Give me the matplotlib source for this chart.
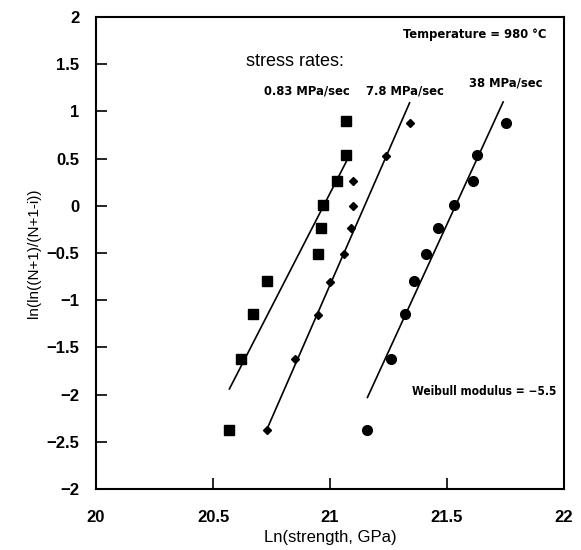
import numpy as np
import matplotlib.pyplot as plt

# Weibull plot: three stress rates at 980 C
sq_x = [21.07, 21.07, 21.03, 20.97, 20.96, 20.95, 20.73, 20.67, 20.62, 20.57]
sq_y = [0.90, 0.54, 0.26, 0.01, -0.24, -0.51, -0.80, -1.15, -1.62, -2.37]

dm_x = [21.34, 21.24, 21.10, 21.10, 21.09, 21.06, 21.00, 20.95, 20.85, 20.73]
dm_y = [0.88, 0.53, 0.26, 0.00, -0.24, -0.51, -0.81, -1.16, -1.62, -2.37]

ci_x = [21.75, 21.63, 21.61, 21.53, 21.46, 21.41, 21.36, 21.32, 21.26, 21.16]
ci_y = [0.88, 0.54, 0.26, 0.01, -0.24, -0.51, -0.80, -1.15, -1.62, -2.37]

# fitted lines (end points)
sq_fit_x = [20.57, 21.07]
sq_fit_y = [-1.94, 0.47]
dm_fit_x = [20.73, 21.34]
dm_fit_y = [-2.37, 1.09]
ci_fit_x = [21.16, 21.74]
ci_fit_y = [-2.03, 1.10]

x_ticks = [20, 20.5, 21, 21.5, 22]
x_labels = ['20', '20.5', '21', '21.5', '22']
y_ticks = [2, 1.5, 1, 0.5, 0, -0.5, -1, -1.5, -2, -2.5, -3]
y_labels = ['2', '1.5', '1', '0.5', '0', '\u22120.5', '\u22121', '\u22121.5',
            '\u22122', '\u22122.5', '\u22122']

W, H = 581, 550
fig = plt.figure(figsize=(W / 100, H / 100), dpi=100)
L, R, T, B = 96, 564, 17, 489
ax = fig.add_axes([L / W, 1 - B / H, (R - L) / W, (B - T) / H])

ax.plot(sq_x, sq_y, 's', color='black', markersize=7.5)
ax.plot(dm_x, dm_y, 'D', color='black', markersize=3.6)
ax.plot(ci_x, ci_y, 'o', color='black', markersize=7)
for fx, fy in [(sq_fit_x, sq_fit_y), (dm_fit_x, dm_fit_y), (ci_fit_x, ci_fit_y)]:
    ax.plot(fx, fy, '-', color='black', linewidth=1.2)

ax.set_xlim(20, 22)
ax.set_ylim(-3, 2)
ax.set_xticks(x_ticks)
ax.set_xticklabels(x_labels)
ax.set_yticks(y_ticks)
ax.set_yticklabels(y_labels)
ax.tick_params(direction='in', length=8, width=1.2, labelsize=12)
ax.tick_params(axis='x', pad=15)
ax.tick_params(axis='y', pad=12)
for lab in ax.get_xticklabels() + ax.get_yticklabels():
    lab.set_fontweight('bold')
    lab.set_family('Liberation Sans')
for s in ax.spines.values():
    s.set_linewidth(1.5)

ax.set_xlabel('Ln(strength, GPa)', fontsize=12, family='Liberation Sans', labelpad=4)
ax.set_ylabel('ln(ln((N+1)/(N+1-i))', fontsize=11, family='Liberation Sans', labelpad=4)

kw = dict(fontsize=9.3, fontweight='bold', family='DejaVu Sans',
          fontstretch='condensed', ha='center', va='center')
ax.text(21.62, 1.81, 'Temperature = 980 \u00b0C', **kw)
ax.text(20.64, 1.53, 'stress rates:', fontsize=13, family='Liberation Sans',
        ha='left', va='center')
ax.text(20.90, 1.22, '0.83 MPa/sec', **kw)
ax.text(21.32, 1.22, '7.8 MPa/sec', **kw)
ax.text(21.75, 1.30, '38 MPa/sec', **kw)
kw['fontsize'] = 8.6
ax.text(21.66, -1.97, 'Weibull modulus = \u22125.5', **kw)

fig.savefig('out.png', dpi=100)
